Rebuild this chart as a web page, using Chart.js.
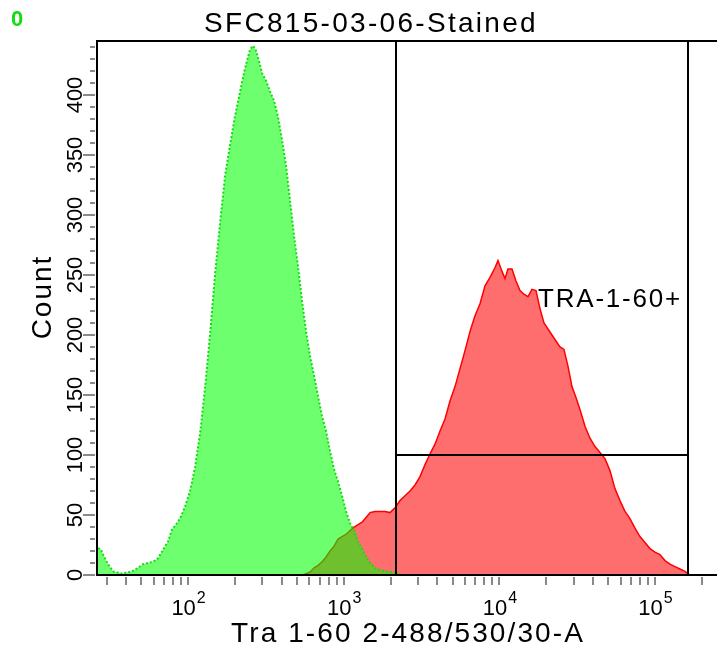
<!DOCTYPE html>
<html>
<head>
<meta charset="utf-8">
<script src="https://cdn.jsdelivr.net/npm/chart.js@4.4.0/dist/chart.umd.min.js"></script>
<style>
  html, body { margin: 0; padding: 0; background: #fff; }
</style>
</head>
<body>
<canvas id="histo" width="717" height="647"></canvas>
<script>
const plotTitle = 'SFC815-03-06-Stained';
const xTitle = 'Tra 1-60 2-488/530/30-A';
const yTitle = 'Count';
const gateLabel = 'TRA-1-60+';
const sampleTag = '0';

// channel positions (fluorescence) shared by both histograms
const channels = [
    26.4, 27.6, 28.9, 30.6, 33.0, 35.5, 37.7, 40.0, 42.4, 45.0, 47.7, 51.4, 55.4, 59.6, 64.2, 69.1, 74.4, 78.9, 83.7, 88.8,
    95.7, 103, 111, 120, 129, 139, 149, 161, 173, 186, 200, 216, 232, 250, 262, 273, 286,
    299, 317, 336, 357, 378, 402, 426, 452, 480, 509, 540, 573, 608, 645, 684, 726, 770, 817, 867, 919, 975, 1035, 1098, 1165, 1236, 1311, 1391, 1476,
    1589, 1711, 1842, 1984, 2136, 2299,
    2476, 2666, 2871, 3090, 3329, 3584, 3858, 4155, 4474, 4816, 5187, 5585, 6014, 6475, 6972, 7507, 8083, 8703, 9370,
    9795, 10392, 10864, 11356,
    12046, 12785, 13561, 14388, 15268, 16196, 17181, 18230, 19340, 20518, 21767, 23091, 24499, 25990, 27571, 29258, 31046, 32937,
    35465, 38185, 41115, 44268, 47667, 51321, 55256, 59511, 64077, 68993, 74287, 79983, 86118, 92726, 99862, 107520, 115770, 124650, 134220, 144530, 155600, 167550, 180400, 194250,
    225300
];

// green histogram (control)
const controlCounts = [
    22.5, 21, 15, 9, 3, 2, 1, 2, 2.5, 4, 6, 9, 10, 11, 14, 21, 28, 38, 42, 47,
    57, 70, 90, 120, 158, 203, 250, 295, 333, 358, 382, 403, 422, 438, 441, 437, 428,
    418, 412, 403, 395, 382, 362, 341, 312, 282, 257, 228, 203, 182, 166, 149, 132, 120, 103, 88, 78, 66, 53, 43, 37, 28, 22, 15, 10,
    6, 4, 3, 2.5, 2, 0,
    0, 0, 0, 0, 0, 0, 0, 0, 0, 0, 0, 0, 0, 0, 0, 0, 0, 0, 0,
    0, 0, 0, 0,
    0, 0, 0, 0, 0, 0, 0, 0, 0, 0, 0, 0, 0, 0, 0, 0, 0, 0,
    0, 0, 0, 0, 0, 0, 0, 0, 0, 0, 0, 0, 0, 0, 0, 0, 0, 0, 0, 0, 0, 0, 0, 0,
    0
];

// red histogram (stained)
const stainedCounts = [
    0, 0, 0, 0, 0, 0, 0, 0, 0, 0, 0, 0, 0, 0, 0, 0, 0, 0, 0, 0,
    0, 0, 0, 0, 0, 0, 0, 0, 0, 0, 0, 0, 0, 0, 0, 0, 0,
    0, 0, 0, 0, 0, 0, 0, 0, 0, 0, 0, 1, 2.5, 6, 8, 11, 15, 20, 24, 30, 32, 34, 37, 40, 42, 44, 48, 52,
    53, 53, 53, 52, 56, 62,
    66, 70, 75, 82, 92, 101, 109, 120, 130, 145, 157, 172, 187, 203, 216, 226, 241, 248, 256,
    262, 253, 247, 255,
    255, 245, 237, 234, 232, 238, 237, 222, 210, 205, 200, 195, 190, 188, 174, 157, 148, 138,
    124, 114, 107, 102, 97, 87, 72, 62, 53, 47, 39, 32, 27, 22, 19, 17, 12, 9, 7, 5, 3, 0, 0, 0,
    0
];

const yTickValues = [0, 50, 100, 150, 200, 250, 300, 350, 400];
const xTickExponents = [2, 3, 4, 5];
const gateRange = [2170, 161700];
const gateLevel = 100;

const toPoints = counts => channels.map((c, i) => ({ x: c, y: counts[i] }));

const axesPlugin = {
    id: 'flowAxes',
    afterDatasetsDraw(chart) {
        const ctx = chart.ctx;
        const area = chart.chartArea;
        const xs = chart.scales.x;
        const ys = chart.scales.y;
        ctx.save();

        // frame
        ctx.fillStyle = '#000';
        ctx.fillRect(area.left - 1, area.top - 1, 2, area.bottom - area.top + 2);
        ctx.fillRect(area.left - 1, area.top - 1, 717, 2);
        ctx.fillRect(area.left - 1, area.bottom - 1, 717, 2);

        // gate
        const gx1 = Math.round(xs.getPixelForValue(gateRange[0]));
        const gx2 = Math.round(xs.getPixelForValue(gateRange[1]));
        const gy = Math.round(ys.getPixelForValue(gateLevel));
        ctx.fillRect(gx1 - 1, area.top, 2, area.bottom - area.top);
        ctx.fillRect(gx2 - 1, area.top, 2, area.bottom - area.top);
        ctx.fillRect(gx1, gy - 1, gx2 - gx1, 2);

        // y ticks
        ctx.fillStyle = '#8a8a8a';
        for (let v = 0; v <= 440; v += 10) {
            const py = Math.round(ys.getPixelForValue(v));
            if (v % 50 === 0) {
                ctx.fillRect(area.left - 14, py - 1, 12, 2);
            } else {
                ctx.fillRect(area.left - 7, py - 1, 5, 2);
            }
        }
        // x ticks
        for (let d = 1; d <= 5; d++) {
            for (let m = 1; m <= 9; m++) {
                const v = m * Math.pow(10, d);
                if (v < xs.min || v > xs.max) continue;
                const px = Math.round(xs.getPixelForValue(v));
                ctx.fillRect(px - 1, area.bottom + 2, 2, 8);
            }
        }

        ctx.fillStyle = '#000';
        // y tick labels, rotated
        ctx.font = '22px "Liberation Sans", Arial, sans-serif';
        ctx.textAlign = 'center';
        ctx.textBaseline = 'alphabetic';
        yTickValues.forEach(v => {
            const py = ys.getPixelForValue(v);
            ctx.save();
            ctx.translate(82, py);
            ctx.rotate(-Math.PI / 2);
            ctx.fillText(String(v), 0, 0);
            ctx.restore();
        });

        // x tick labels 10^n
        xTickExponents.forEach(e => {
            const px = xs.getPixelForValue(Math.pow(10, e));
            ctx.font = '22px "Liberation Sans", Arial, sans-serif';
            const w1 = ctx.measureText('10').width;
            ctx.font = '16px "Liberation Sans", Arial, sans-serif';
            const w2 = ctx.measureText(String(e)).width;
            const x0 = px - (w1 + w2) / 2;
            ctx.textAlign = 'left';
            ctx.font = '22px "Liberation Sans", Arial, sans-serif';
            ctx.fillText('10', x0, 615);
            ctx.font = '16px "Liberation Sans", Arial, sans-serif';
            ctx.fillText(String(e), x0 + w1 + 1, 603);
        });

        // titles
        ctx.textAlign = 'center';
        ctx.font = '28px "Liberation Sans", Arial, sans-serif';
        ctx.letterSpacing = '2.3px';
        ctx.fillText(plotTitle, 371, 32);
        ctx.letterSpacing = '2.1px';
        ctx.fillText(xTitle, 408, 642);

        ctx.save();
        ctx.letterSpacing = '2px';
        ctx.translate(51, 297);
        ctx.rotate(-Math.PI / 2);
        ctx.fillText(yTitle, 0, 0);
        ctx.restore();

        ctx.textAlign = 'left';
        ctx.font = '26px "Liberation Sans", Arial, sans-serif';
        ctx.letterSpacing = '1.8px';
        ctx.fillText(gateLabel, 538, 307);

        ctx.letterSpacing = '0px';
        ctx.fillStyle = '#11dd11';
        ctx.font = 'bold 22px "Liberation Sans", Arial, sans-serif';
        ctx.fillText(sampleTag, 11, 26);

        ctx.restore();
    }
};

new Chart(document.getElementById('histo').getContext('2d'), {
    type: 'line',
    data: {
        datasets: [
            {
                label: 'Control',
                data: toPoints(controlCounts),
                borderColor: '#11dd11',
                borderWidth: 2,
                borderDash: [2, 2],
                backgroundColor: 'rgba(0, 255, 0, 0.57)',
                fill: 'origin',
                pointRadius: 0,
                tension: 0
            },
            {
                label: 'Stained',
                data: toPoints(stainedCounts),
                borderColor: '#ff0000',
                borderWidth: 1.5,
                backgroundColor: 'rgb(255, 110, 110)',
                fill: 'origin',
                pointRadius: 0,
                tension: 0
            }
        ]
    },
    options: {
        responsive: false,
        animation: false,
        devicePixelRatio: 1,
        layout: {
            padding: { left: 97, top: 41, right: 0, bottom: 72 }
        },
        scales: {
            x: {
                type: 'logarithmic',
                display: false,
                min: 26,
                max: 250000,
                bounds: 'data'
            },
            y: {
                type: 'linear',
                display: false,
                min: 0,
                max: 445
            }
        },
        plugins: {
            legend: { display: false },
            tooltip: { enabled: false },
            title: { display: false }
        }
    },
    plugins: [axesPlugin]
});
</script>
</body>
</html>
